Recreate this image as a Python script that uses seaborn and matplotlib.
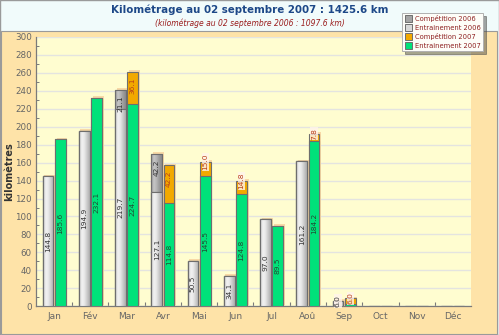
import numpy as np
import pandas as pd
import seaborn as sns
import matplotlib
matplotlib.use("Agg")
import matplotlib.pyplot as plt
from matplotlib.patches import Rectangle, Patch
from matplotlib import patheffects as pe
from matplotlib.colors import LinearSegmentedColormap

# --- data ------------------------------------------------------------------
months = ["Jan", "Fév", "Mar", "Avr", "Mai", "Jun", "Jul", "Aoû", "Sep", "Oct", "Nov", "Déc"]
entrainement_2006 = [144.8, 194.9, 219.7, 127.1, 50.5, 34.1, 97.0, 161.2, 6.0, 0, 0, 0]
competition_2006 = [0, 0, 21.1, 42.2, 0, 0, 0, 0, 0, 0, 0, 0]
entrainement_2007 = [185.6, 232.1, 224.7, 114.8, 145.5, 124.8, 89.5, 184.2, 3.0, 0, 0, 0]
competition_2007 = [0, 0, 36.1, 42.2, 15.0, 14.8, 0, 7.8, 6.0, 0, 0, 0]
years = ["2006", "2007"]

title = "Kilométrage au 02 septembre 2007 : 1425.6 km"
subtitle = "(kilométrage au 02 septembre 2006 : 1097.6 km)"

# --- colours ---------------------------------------------------------------
C_TOP = "#f1fbfb"
C_PANEL = "#fee3a8"
C_PLOT = "#fffdd0"
C_GRID = "#e4e4e0"
C_EDGE = "#6e6e6e"
C_COMP06 = "#a4a4a4"
C_ENT06 = "#d8d8d8"
C_COMP07 = "#f2a900"
C_ENT07 = "#00e27a"

ent = pd.DataFrame({
    "mois": months * 2,
    "annee": [years[0]] * 12 + [years[1]] * 12,
    "km": entrainement_2006 + entrainement_2007,
})
comp = pd.DataFrame({
    "mois": months * 2,
    "annee": [years[0]] * 12 + [years[1]] * 12,
    "km": competition_2006 + competition_2007,
})
tot = ent.copy()
tot["km"] = ent["km"] + comp["km"]

sns.set_theme(style="white")
plt.rcParams["font.family"] = ["DejaVu Sans"]

fig = plt.figure(figsize=(4.99, 3.35), dpi=100, facecolor=C_TOP)
fig.patches.append(Rectangle((0.002, 0.004), 0.994, 0.903, transform=fig.transFigure,
                             facecolor=C_PANEL, edgecolor="#9a9a9a", lw=0.8, zorder=-2))
fig.patches.append(Rectangle((0.0, 0.0), 1.0, 1.0, transform=fig.transFigure,
                             facecolor="none", edgecolor="#9a9a9a", lw=1.0, zorder=-1))

ax = fig.add_axes([0.0721, 0.0851, 0.8718, 0.8059])
ax.set_zorder(1)
ax.set_facecolor(C_PLOT)

common = dict(x="mois", y="km", hue="annee", order=months, hue_order=years,
              width=0.68, gap=0.12, dodge=True, legend=False, ax=ax,
              edgecolor=C_EDGE, linewidth=0.8, saturation=1)

# total (competition on top of training), then training over it
sns.barplot(data=tot, palette={years[0]: C_COMP06, years[1]: C_COMP07}, **common)
n_tot = len(ax.patches)
sns.barplot(data=ent, palette={years[0]: C_ENT06, years[1]: C_ENT07}, **common)

tot_patches = ax.patches[:n_tot]
ent_patches = ax.patches[n_tot:]

shadow = [pe.SimplePatchShadow(offset=(1.2, 1.2), shadow_rgbFace="#f8d9a6", alpha=1.0), pe.Normal()]

gray_light = LinearSegmentedColormap.from_list("gl", ["#b8b8b8", "#f4f4f4", "#e8e8e8", "#cacaca", "#acacac"])
gray_dark = LinearSegmentedColormap.from_list("gd", ["#8c8c8c", "#c8c8c8", "#b6b6b6", "#9c9c9c", "#8a8a8a"])
grad = np.linspace(0, 1, 64).reshape(1, -1)


def shade(p, cmap, z):
    x, y = p.get_x(), p.get_y()
    w, h = p.get_width(), p.get_height()
    if h <= 0:
        return
    im = ax.imshow(grad, cmap=cmap, aspect="auto", extent=(x, x + w, y, y + h),
                   zorder=z + 0.1, interpolation="bicubic")
    im.set_clip_path(p)
    ax.add_patch(Rectangle((x, y), w, h, facecolor="none", edgecolor=C_EDGE,
                           lw=0.8, zorder=z + 0.2))


for i, p in enumerate(tot_patches):
    p.set_zorder(2)
    if p.get_height() > 0:
        p.set_path_effects(shadow)
    if i < 12:
        shade(p, gray_dark, 2)
for i, p in enumerate(ent_patches):
    p.set_zorder(3)
    if i < 12:
        shade(p, gray_light, 3)

BOX = dict(boxstyle="square,pad=0.1", fc="#fff4ec", ec="none", alpha=0.8)


def label_mid(p, value, color):
    # training value, written in the middle of its segment
    if value < 4:
        return
    cx = p.get_x() + p.get_width() / 2
    if value < 20:
        ax.text(cx, value, f"{value:.1f}", rotation=90, ha="center", va="center",
                fontsize=5.4, color=color, zorder=5, bbox=BOX)
    else:
        ax.text(cx, value / 2, f"{value:.1f}", rotation=90, ha="center", va="center",
                fontsize=5.4, color=color, zorder=5)


def label_top(p, value, base, color):
    # competition value, written near the top of the stacked bar
    if value <= 0:
        return
    cx = p.get_x() + p.get_width() / 2
    top = base + value
    if value < 20:
        ax.text(cx, top, f"{value:.1f}", rotation=90, ha="center", va="center",
                fontsize=5.4, color=color, zorder=5, bbox=BOX)
    else:
        ax.text(cx, top - 6, f"{value:.1f}", rotation=90, ha="center", va="top",
                fontsize=5.4, color=color, zorder=5)


for i in range(12):
    pe06 = ent_patches[i]
    pe07 = ent_patches[12 + i]
    label_mid(pe06, entrainement_2006[i], "#333333")
    label_mid(pe07, entrainement_2007[i], "#1f4d33")
    label_top(pe06, competition_2006[i], entrainement_2006[i], "#333333")
    label_top(pe07, competition_2007[i], entrainement_2007[i], "#b8401a")

# axes styling
ax.set_xlim(-0.5, 11.5)
ax.set_ylim(0, 300)
ax.set_yticks(np.arange(0, 301, 20))
ax.set_yticks(np.arange(0, 301, 10), minor=True)
ax.set_xticks(np.arange(0.5, 11.5, 1), minor=True)
ax.yaxis.grid(True, which="major", color=C_GRID, lw=1.0)
ax.set_axisbelow(True)
for s in ("top", "right"):
    ax.spines[s].set_visible(False)
for s in ("left", "bottom"):
    ax.spines[s].set_color("#7a7a7a")
    ax.spines[s].set_linewidth(0.9)
ax.tick_params(axis="y", which="major", direction="in", length=3.5, width=0.8,
               color="#7a7a7a", labelsize=6.3, labelcolor="#666666", pad=3)
ax.tick_params(axis="y", which="minor", direction="in", length=2, width=0.7, color="#7a7a7a", left=True)
ax.tick_params(axis="x", which="major", length=0, labelsize=6.5, labelcolor="#666666", pad=4)
ax.tick_params(axis="x", which="minor", direction="in", length=3, width=0.8, color="#7a7a7a", bottom=True)
ax.set_xlabel("")
ax.set_ylabel("kilomètres", fontsize=7, fontweight="bold", color="#333333")
ax.yaxis.set_label_coords(-0.051, 0.5)

# titles
fig.text(0.5, 0.972, title, ha="center", va="center", fontsize=7.4,
         fontweight="bold", color="#1d4888")
fig.text(0.5, 0.930, subtitle, ha="center", va="center", fontsize=5.5,
         style="italic", color="#9a1c1c")

# legend
handles = [Patch(facecolor=C_COMP06, edgecolor=C_EDGE, lw=0.7, label="Compétition 2006"),
           Patch(facecolor=C_ENT06, edgecolor=C_EDGE, lw=0.7, label="Entrainement 2006"),
           Patch(facecolor=C_COMP07, edgecolor=C_EDGE, lw=0.7, label="Compétition 2007"),
           Patch(facecolor=C_ENT07, edgecolor=C_EDGE, lw=0.7, label="Entrainement 2007")]
leg = fig.legend(handles=handles, loc="upper left", bbox_to_anchor=(0.806, 0.962),
                 fontsize=4.9, frameon=True, fancybox=False, shadow=True,
                 handlelength=1.15, handleheight=1.15, handletextpad=0.4,
                 labelspacing=0.3, borderpad=0.35, borderaxespad=0)
leg.set_zorder(5)
leg.get_frame().set_facecolor("#fdfdf8")
leg.get_frame().set_edgecolor("#b0b0b0")
leg.get_frame().set_linewidth(0.7)
for t in leg.get_texts():
    t.set_color("#8e2020")

fig.savefig("out.png", dpi=100, facecolor=fig.get_facecolor())
